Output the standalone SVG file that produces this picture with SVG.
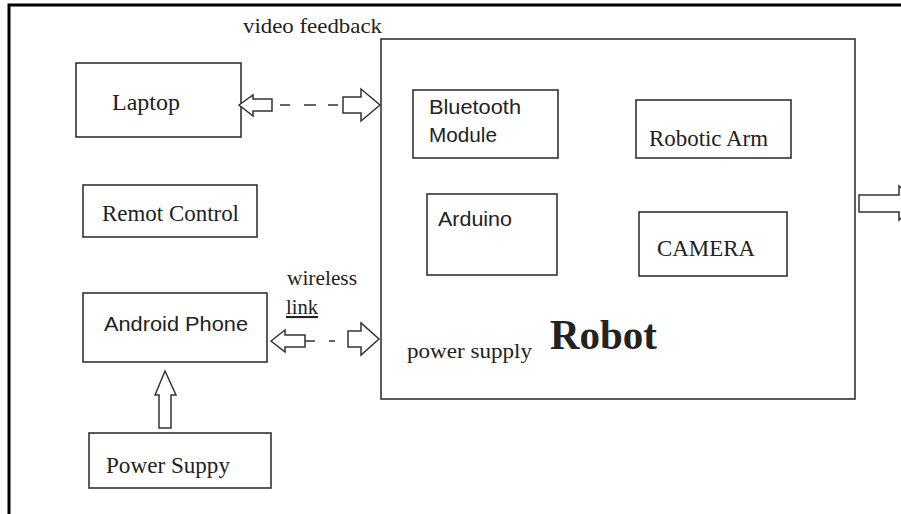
<svg xmlns="http://www.w3.org/2000/svg" width="901" height="514" viewBox="0 0 901 514">
<style>
.box{fill:none;stroke:#333;stroke-width:1.6}
.serif{font-family:"Liberation Serif","Times New Roman",serif;fill:#222}
.sans{font-family:"Liberation Sans",Arial,sans-serif;fill:#222}
.arr{fill:#fff;stroke:#333;stroke-width:1.5;stroke-linejoin:miter}
.dash{stroke:#333;stroke-width:1.6;fill:none}
</style>
<rect width="901" height="514" fill="#fff"/>
<g id="frame"><path d="M9 514 V5 H901" fill="none" stroke="#000" stroke-width="3"/></g>
<g id="robot">
<rect class="box" x="381" y="39" width="474" height="360"/>
<text class="serif" x="407" y="358" font-size="22" textLength="125" lengthAdjust="spacingAndGlyphs">power supply</text>
<text class="serif" x="550" y="349" font-size="43" font-weight="bold" fill="#111" textLength="107" lengthAdjust="spacingAndGlyphs">Robot</text>
</g>
<g id="laptop">
<rect class="box" x="76" y="63" width="165" height="74"/>
<text class="serif" x="112" y="110" font-size="24" textLength="68" lengthAdjust="spacingAndGlyphs">Laptop</text>
</g>
<g id="remote">
<rect class="box" x="83" y="185" width="174" height="52"/>
<text class="serif" x="102" y="221" font-size="23" textLength="137" lengthAdjust="spacingAndGlyphs">Remot Control</text>
</g>
<g id="android">
<rect class="box" x="83" y="293" width="184" height="69"/>
<text class="sans" x="104" y="331" font-size="21" textLength="144" lengthAdjust="spacingAndGlyphs">Android Phone</text>
</g>
<g id="powersupply">
<rect class="box" x="89" y="433" width="182" height="55"/>
<text class="serif" x="106" y="473" font-size="23" textLength="124" lengthAdjust="spacingAndGlyphs">Power Suppy</text>
</g>
<g id="bluetooth">
<rect class="box" x="413" y="90" width="145" height="68"/>
<text class="sans" x="429" y="114" font-size="21" textLength="92" lengthAdjust="spacingAndGlyphs">Bluetooth</text>
<text class="sans" x="429" y="142" font-size="21" textLength="68" lengthAdjust="spacingAndGlyphs">Module</text>
</g>
<g id="arm">
<rect class="box" x="636" y="100" width="155" height="58"/>
<text class="serif" x="649" y="146" font-size="23" textLength="119" lengthAdjust="spacingAndGlyphs">Robotic Arm</text>
</g>
<g id="arduino">
<rect class="box" x="427" y="194" width="130" height="81"/>
<text class="sans" x="438" y="226" font-size="21" textLength="74" lengthAdjust="spacingAndGlyphs">Arduino</text>
</g>
<g id="camera">
<rect class="box" x="639" y="212" width="148" height="64"/>
<text class="serif" x="657" y="256" font-size="23" textLength="98" lengthAdjust="spacingAndGlyphs">CAMERA</text>
</g>
<g id="connectors">
<text class="serif" x="243" y="33" font-size="22" textLength="139" lengthAdjust="spacingAndGlyphs">video feedback</text>
<path class="arr" d="M239 105 L253 95 L253 99 L272 99 L272 111 L253 111 L253 116 Z"/>
<path class="dash" d="M280 105 H290 M304 105 H316 M328 105 H338"/>
<path class="arr" d="M343 97 L361 97 L361 89 L380 105 L361 121 L361 113 L343 113 Z"/>
<text class="serif" x="287" y="285" font-size="21" textLength="70" lengthAdjust="spacingAndGlyphs">wireless</text>
<text class="serif" x="286" y="314" font-size="21" text-decoration="underline" textLength="32" lengthAdjust="spacingAndGlyphs">link</text>
<path class="arr" d="M271 341 L285 330 L285 335 L305 335 L305 347 L285 347 L285 352 Z"/>
<path class="dash" d="M305 341 H315 M329 341 H335 M348 341 H356"/>
<path class="arr" d="M348 331 L361 331 L361 323 L379 339 L361 355 L361 347 L348 347 Z"/>
<path class="arr" d="M165 371 L176 395 L171 395 L171 428 L159 428 L159 395 L155 395 Z"/>
<path class="arr" d="M859 195 L899 195 L899 186 L918 203 L899 220 L899 212 L859 212 Z"/>
</g>
</svg>
